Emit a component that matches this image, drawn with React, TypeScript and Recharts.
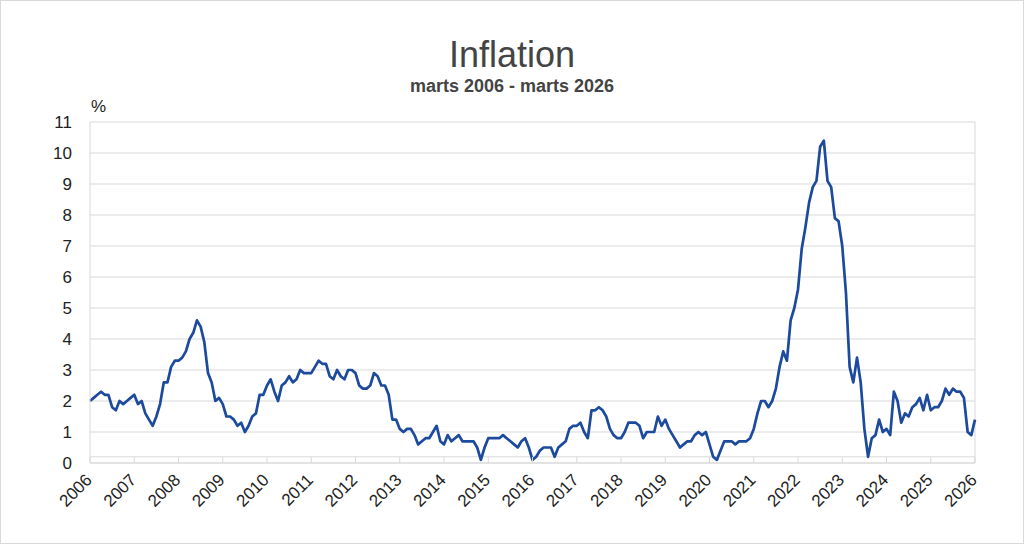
import { LineChart, Line, XAxis, YAxis, CartesianGrid, ReferenceLine } from 'recharts'

document.body.style.margin = '0'

const FONT = '"Liberation Sans", Arial, sans-serif'
const GRID = '#d9d9d9'
const LINE_COLOR = '#1c4a9c'
const TEXT = '#222222'

const START_YEAR = 2006
const START_MONTH = 3

// Monthly inflation, %, March 2006 - March 2026
const INFLATION = [
  // 2006 (Mar-Dec)
  2.0, 2.1, 2.2, 2.3, 2.2, 2.2, 1.8, 1.7, 2.0, 1.9,
  // 2007
  2.0, 2.1, 2.2, 1.9, 2.0, 1.6, 1.4, 1.2, 1.5, 1.9, 2.6, 2.6,
  // 2008
  3.1, 3.3, 3.3, 3.4, 3.6, 4.0, 4.2, 4.6, 4.4, 3.9, 2.9, 2.6,
  // 2009
  2.0, 2.1, 1.9, 1.5, 1.5, 1.4, 1.2, 1.3, 1.0, 1.2, 1.5, 1.6,
  // 2010
  2.2, 2.2, 2.5, 2.7, 2.3, 2.0, 2.5, 2.6, 2.8, 2.6, 2.7, 3.0,
  // 2011
  2.9, 2.9, 2.9, 3.1, 3.3, 3.2, 3.2, 2.8, 2.7, 3.0, 2.8, 2.7,
  // 2012
  3.0, 3.0, 2.9, 2.5, 2.4, 2.4, 2.5, 2.9, 2.8, 2.5, 2.5, 2.2,
  // 2013
  1.4, 1.4, 1.1, 1.0, 1.1, 1.1, 0.9, 0.6, 0.7, 0.8, 0.8, 1.0,
  // 2014
  1.2, 0.7, 0.6, 0.9, 0.7, 0.8, 0.9, 0.7, 0.7, 0.7, 0.7, 0.5,
  // 2015
  0.1, 0.5, 0.8, 0.8, 0.8, 0.8, 0.9, 0.8, 0.7, 0.6, 0.5, 0.7,
  // 2016
  0.8, 0.5, 0.1, 0.2, 0.4, 0.5, 0.5, 0.5, 0.2, 0.5, 0.6, 0.7,
  // 2017
  1.1, 1.2, 1.2, 1.3, 1.0, 0.8, 1.7, 1.7, 1.8, 1.7, 1.5, 1.1,
  // 2018
  0.9, 0.8, 0.8, 1.0, 1.3, 1.3, 1.3, 1.2, 0.8, 1.0, 1.0, 1.0,
  // 2019
  1.5, 1.2, 1.4, 1.1, 0.9, 0.7, 0.5, 0.6, 0.7, 0.7, 0.9, 1.0,
  // 2020
  0.9, 1.0, 0.6, 0.2, 0.1, 0.4, 0.7, 0.7, 0.7, 0.6, 0.7, 0.7,
  // 2021
  0.7, 0.8, 1.1, 1.6, 2.0, 2.0, 1.8, 2.0, 2.4, 3.1, 3.6, 3.3,
  // 2022
  4.6, 5.0, 5.6, 6.9, 7.6, 8.4, 8.9, 9.1, 10.2, 10.4, 9.1, 8.9,
  // 2023
  7.9, 7.8, 7.0, 5.5, 3.1, 2.6, 3.4, 2.6, 1.1, 0.2, 0.8, 0.9,
  // 2024
  1.4, 1.0, 1.1, 0.9, 2.3, 2.0, 1.3, 1.6, 1.5, 1.8, 1.9, 2.1,
  // 2025
  1.7, 2.2, 1.7, 1.8, 1.8, 2.0, 2.4, 2.2, 2.4, 2.3, 2.3, 2.1,
  // 2026 (Jan-Mar)
  1.0, 0.9, 1.4,
]

const MONTHS = INFLATION.map((_, i) => {
  const m = START_MONTH - 1 + i
  return `${START_YEAR + Math.floor(m / 12)}-${String((m % 12) + 1).padStart(2, '0')}`
})

const Y_TICKS = [0, 1, 2, 3, 4, 5, 6, 7, 8, 9, 10, 11]

// the reference has a second thin line just above the value axis
const BASE_LINE = 0.2

const data = MONTHS.map((month, i) => ({ month, value: INFLATION[i] }))

function YearTick({ x, y, payload }: any) {
  const tx = x + 3
  const ty = y + 18
  return (
    <g>
      <line x1={x} y1={y - 6} x2={x} y2={y} stroke={GRID} strokeWidth={1} />
      <text
        x={tx}
        y={ty}
        textAnchor="end"
        transform={`rotate(-45 ${tx} ${ty})`}
        fontSize={17}
        fontFamily={FONT}
        fill={TEXT}
      >
        {String(payload.value).slice(0, 4)}
      </text>
    </g>
  )
}

export default function App() {
  return (
    <div style={{ position: 'relative', width: 1024, height: 544, background: '#fff', fontFamily: FONT }}>
      <div
        style={{
          position: 'absolute',
          left: 0,
          top: 0,
          width: 1024,
          height: 544,
          boxSizing: 'border-box',
          border: `1px solid ${GRID}`,
          pointerEvents: 'none',
        }}
      />
      <div
        style={{
          position: 'absolute',
          left: 0,
          width: 1024,
          top: 35,
          textAlign: 'center',
          fontSize: 36,
          color: '#444',
          lineHeight: '40px',
        }}
      >
        Inflation
      </div>
      <div
        style={{
          position: 'absolute',
          left: 0,
          width: 1024,
          top: 75,
          textAlign: 'center',
          fontSize: 18,
          fontWeight: 'bold',
          color: '#444',
          lineHeight: '22px',
        }}
      >
        marts 2006 - marts 2026
      </div>
      <div style={{ position: 'absolute', left: 91, top: 97, fontSize: 17, color: TEXT, lineHeight: '20px' }}>%</div>

      <LineChart
        width={1024}
        height={544}
        data={data}
        margin={{ top: 122, right: 49, left: 30, bottom: 21 }}
      >
        <CartesianGrid vertical={false} stroke={GRID} />
        <XAxis
          dataKey="month"
          interval={11}
          height={60}
          tickSize={0}
          tickMargin={0}
          tickLine={false}
          axisLine={{ stroke: GRID }}
          tick={<YearTick />}
        />
        <YAxis
          domain={[0, 11]}
          ticks={Y_TICKS}
          interval={0}
          width={60}
          tickSize={0}
          tickMargin={18}
          tickLine={false}
          axisLine={{ stroke: GRID }}
          tick={{ fontSize: 17, fill: TEXT, fontFamily: FONT }}
        />
        <ReferenceLine y={BASE_LINE} stroke={GRID} />
        <ReferenceLine x={MONTHS[MONTHS.length - 1]} stroke={GRID} />
        <Line
          type="linear"
          dataKey="value"
          stroke={LINE_COLOR}
          strokeWidth={2.7}
          strokeLinejoin="round"
          dot={false}
          activeDot={false}
          isAnimationActive={false}
        />
      </LineChart>
    </div>
  )
}
